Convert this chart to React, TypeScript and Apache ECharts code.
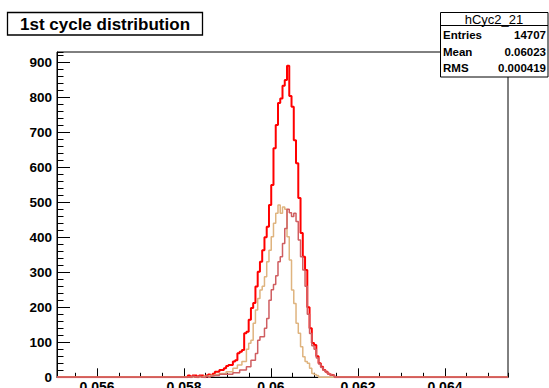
import React, { useEffect, useRef } from "react";
import * as echarts from "echarts";

// Histogram binning (value units)
const X_MIN = 0.05508;
const X_MAX = 0.06545;
const Y_MAX = 928.6;
const BIN_START = 0.05508;
const BIN_WIDTH = 0.00005185;

// Series counts (first bin index + counts per bin)
const RED_START = 57;
const redCounts = [
  0, 5, 0, 5, 5, 0, 5, 5, 0, 5, 8, 5, 10,
  16, 16, 21, 21, 26, 32, 35, 35, 45, 49,
  69, 73, 78, 126, 130, 164, 198, 212, 259, 301,
  330, 363, 400, 430, 492, 549, 654, 720, 783, 796,
  832, 849, 889, 803, 772, 677, 611, 512, 412, 344,
  306, 200, 140, 98, 92, 60, 40, 30, 21, 16,
  10, 7, 5,
];

const ORANGE_START = 65;
const orangeCounts = [
  3, 3, 5, 5, 5, 8, 8, 11, 11, 11,
  16, 16, 16, 26, 26, 35, 35, 45, 45, 80,
  97, 106, 154, 192, 225, 249, 260, 287, 330, 363,
  401, 440, 468, 492, 468, 486, 480, 401, 335, 249,
  211, 154, 126, 87, 59, 45, 40, 26, 11, 8,
  5, 0,
];

const PURPLE_START = 58;
const purpleCounts = [
  0, 0, 3, 0, 0, 3, 0, 0, 3, 0, 3, 5,
  5, 5, 9, 9, 9, 9, 9, 9, 13, 13,
  13, 21, 21, 21, 30, 30, 49, 49, 68, 106,
  116, 116, 140, 168, 220, 250, 265, 290, 330, 344,
  382, 425, 480, 470, 459, 468, 445, 392, 344, 306,
  260, 180, 125, 90, 80, 55, 38, 28, 20, 15,
  10, 7, 5,
];

const TITLE = "1st cycle distribution";
const STATS_NAME = "hCyc2_21";
const statLabels = ["Entries", "Mean", "RMS"];
const statValues = ["14707", "0.06023", "0.000419"];

const FONT = "'Liberation Sans', Arial, Helvetica, sans-serif";

function histPoints(start: number, counts: number[]): number[][] {
  const pts: number[][] = [[X_MIN, 0]];
  counts.forEach((c, k) => pts.push([BIN_START + (start + k) * BIN_WIDTH, c]));
  pts.push([BIN_START + (start + counts.length) * BIN_WIDTH, 0]);
  pts.push([X_MAX, 0]);
  return pts;
}

export default function App() {
  const ref = useRef<HTMLDivElement>(null);

  useEffect(() => {
    document.body.style.margin = "0";
    if (!ref.current) return;
    const chart = echarts.init(ref.current, undefined, { renderer: "svg" });

    const statRowsY = [34.5, 51.5, 68.3];
    const statGraphics: any[] = [];
    statLabels.forEach((lab, i) => {
      statGraphics.push({
        type: "text",
        z: 101,
        style: {
          text: lab,
          x: 443,
          y: statRowsY[i],
          font: `bold 11.5px ${FONT}`,
          fill: "#000",
          align: "left",
          verticalAlign: "middle",
          textAlign: "left",
          textVerticalAlign: "middle",
        },
      });
      statGraphics.push({
        type: "text",
        z: 101,
        style: {
          text: statValues[i],
          x: 546,
          y: statRowsY[i],
          font: `bold 11.5px ${FONT}`,
          fill: "#000",
          align: "right",
          verticalAlign: "middle",
          textAlign: "right",
          textVerticalAlign: "middle",
        },
      });
    });

    const option: any = {
      animation: false,
      backgroundColor: "#fff",
      grid: {
        left: 57,
        right: 41,
        top: 52,
        bottom: 10.7,
        containLabel: false,
        outerBoundsMode: "none",
        show: true,
        borderColor: "#000",
        borderWidth: 1,
        backgroundColor: "transparent",
      },
      xAxis: [
        {
          type: "value",
          position: "bottom",
          min: X_MIN,
          max: X_MAX,
          splitNumber: 5,
          axisLine: { show: true, lineStyle: { color: "#000", width: 1 } },
          axisTick: { show: true, inside: true, length: 9, lineStyle: { color: "#000", width: 1 } },
          axisLabel: {
            show: true,
            margin: 3,
            color: "#000",
            fontFamily: FONT,
            fontWeight: "bold",
            fontSize: 14,
            showMinLabel: false,
            showMaxLabel: false,
          },
          splitLine: { show: false },
        },
        {
          type: "value",
          position: "bottom",
          min: X_MIN,
          max: X_MAX,
          splitNumber: 20,
          axisLine: { show: false },
          axisTick: { show: true, inside: true, length: 4.5, lineStyle: { color: "#000", width: 1 } },
          axisLabel: { show: false },
          splitLine: { show: false },
        },
      ],
      yAxis: [
        {
          type: "value",
          position: "left",
          min: 0,
          max: Y_MAX,
          interval: 100,
          axisLine: { show: true, lineStyle: { color: "#000", width: 1 } },
          axisTick: { show: true, inside: true, length: 13, lineStyle: { color: "#000", width: 1 } },
          axisLabel: {
            show: true,
            margin: 5,
            color: "#000",
            fontFamily: FONT,
            fontWeight: "bold",
            fontSize: 13.5,
            showMaxLabel: false,
          },
          splitLine: { show: false },
        },
        {
          type: "value",
          position: "left",
          min: 0,
          max: Y_MAX,
          interval: 20,
          axisLine: { show: false },
          axisTick: { show: true, inside: true, length: 6.5, lineStyle: { color: "#000", width: 1 } },
          axisLabel: { show: false },
          splitLine: { show: false },
        },
      ],
      series: [
        {
          name: "total",
          type: "line",
          step: "end",
          symbol: "none",
          xAxisIndex: 0,
          yAxisIndex: 0,
          data: histPoints(RED_START, redCounts),
          lineStyle: { color: "#ff0000", width: 2 },
          itemStyle: { color: "#ff0000" },
        },
        {
          name: "a",
          type: "line",
          step: "end",
          symbol: "none",
          xAxisIndex: 0,
          yAxisIndex: 0,
          data: histPoints(ORANGE_START, orangeCounts),
          lineStyle: { color: "#dfb47f", width: 1.5 },
          itemStyle: { color: "#dfb47f" },
        },
        {
          name: "b",
          type: "line",
          step: "end",
          symbol: "none",
          xAxisIndex: 0,
          yAxisIndex: 0,
          data: histPoints(PURPLE_START, purpleCounts),
          lineStyle: { color: "#cf5e61", width: 1.5 },
          itemStyle: { color: "#cf5e61" },
        },
      ],
      graphic: [
        {
          type: "rect",
          z: 100,
          shape: { x: 7.5, y: 12.5, width: 195, height: 22.5 },
          style: { fill: "#fff", stroke: "#000", lineWidth: 1.3 },
        },
        {
          type: "text",
          z: 101,
          style: {
            text: TITLE,
            x: 105,
            y: 24,
            font: `bold 17px ${FONT}`,
            fill: "#000",
            align: "center",
            verticalAlign: "middle",
            textAlign: "center",
            textVerticalAlign: "middle",
          },
        },
        {
          type: "rect",
          z: 100,
          shape: { x: 440.5, y: 12.5, width: 107.5, height: 64.5 },
          style: { fill: "#fff", stroke: "#000", lineWidth: 1 },
        },
        {
          type: "line",
          z: 101,
          shape: { x1: 440.5, y1: 25.5, x2: 548, y2: 25.5 },
          style: { stroke: "#000", lineWidth: 1 },
        },
        {
          type: "text",
          z: 101,
          style: {
            text: STATS_NAME,
            x: 494,
            y: 19.5,
            font: `13px ${FONT}`,
            fill: "#000",
            align: "center",
            verticalAlign: "middle",
            textAlign: "center",
            textVerticalAlign: "middle",
          },
        },
        ...statGraphics,
      ],
    };

    chart.setOption(option);
    return () => chart.dispose();
  }, []);

  return <div ref={ref} style={{ width: 549, height: 388 }} />;
}
